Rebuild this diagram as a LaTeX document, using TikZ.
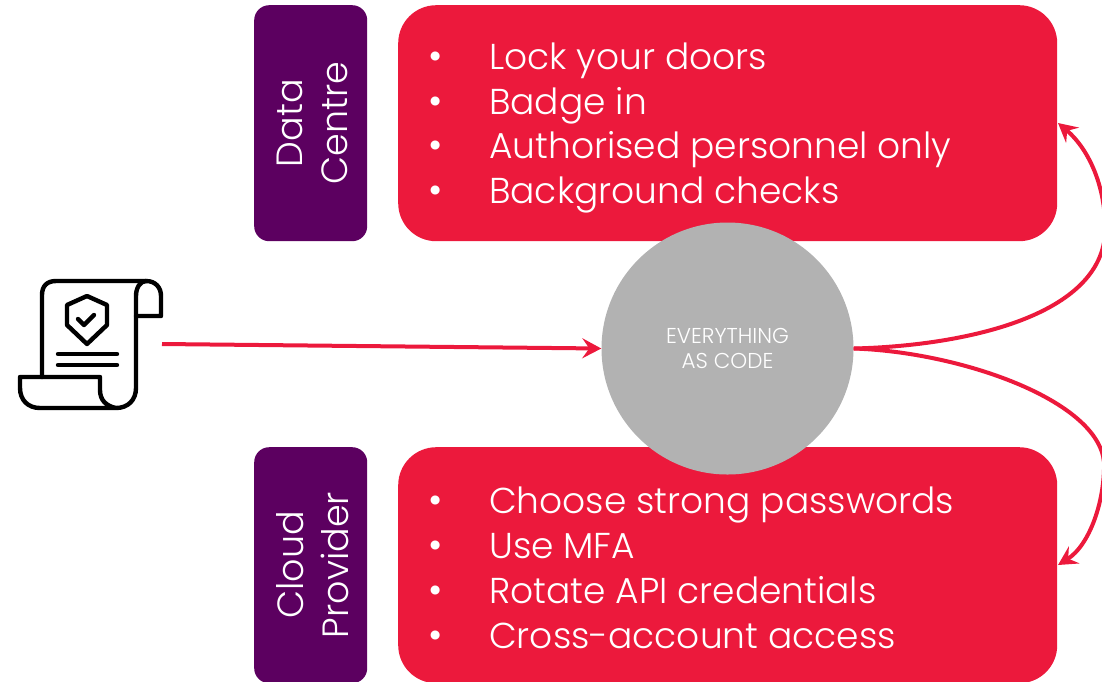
\documentclass[tikz,border=0pt]{standalone}
\usepackage{fontspec}
\setmainfont{Poppins Light}
\usetikzlibrary{arrows.meta}
\definecolor{redbox}{HTML}{EC193C}
\definecolor{purplebox}{HTML}{5C0060}
\definecolor{greyc}{HTML}{B2B2B2}
\newcommand{\bul}[1]{\makebox[61pt][l]{\fontsize{39}{26}\selectfont •}#1}
\tikzset{
 x=1pt,y=-1pt,
 redpanel/.style={fill=redbox,rounded corners=38pt,minimum width=659pt,minimum height=236pt,anchor=north west,inner sep=0pt},
 purplepanel/.style={fill=purplebox,rounded corners=15pt,minimum width=113pt,minimum height=236pt,anchor=north west,inner sep=0pt},
 listtext/.style={text=white,align=left,anchor=west,inner sep=0pt,font=\fontsize{36}{44.8}\selectfont},
 sidetext/.style={text=white,align=center,rotate=90,inner sep=0pt,font=\fontsize{36.5}{44.8}\selectfont},
 link/.style={draw=redbox,line width=4pt,-{Stealth[length=19pt,width=20pt,inset=7pt]}},
 iconline/.style={draw=black,line width=4.4pt,line join=round,line cap=round},
}
\begin{document}
\begin{tikzpicture}
\useasboundingbox (0,0) rectangle (1102,681);
\clip (0,0) rectangle (1102,681);
\node[purplepanel] (pa) at (254,5) {};
\node[purplepanel] (pb) at (254,447) {};
\node[sidetext] (patext) at (312.5,123) {Data\\Centre};
\node[sidetext] (pbtext) at (312.5,565) {Cloud\\Provider};
\node[redpanel] (ra) at (398,5) {};
\node[redpanel] (rb) at (398,447) {};
\node[listtext] (la) at (428,128) {\bul{Lock your doors}\\\bul{Badge in}\\\bul{Authorised personnel only}\\\bul{Background checks}};
\node[listtext] (lb) at (428,568) {\bul{Choose strong passwords}\\\bul{Use MFA}\\\bul{Rotate API credentials}\\\bul{Cross-account access}};
\node[circle,fill=greyc,minimum size=252pt,inner sep=0pt,text=white,align=center,font=\fontsize{21.5}{25}\selectfont] (hub) at (727.5,348.5) {\raisebox{-2pt}{EVERYTHING}\\\raisebox{-2pt}{AS CODE}};
\coordinate (doc) at (162,344);
\coordinate (ta) at (1058,123);
\coordinate (tb) at (1058,565);
\draw[link] (doc) -- (hub.west);
\draw[link] (hub.east) .. controls (960,346) and (1098,318) .. (1105,235) .. controls (1107,190) and (1090,150) .. (ta);
\draw[link] (hub.east) .. controls (960,352) and (1098,400) .. (1104,462) .. controls (1105,500) and (1090,545) .. (tb);
% document icon
\draw[iconline] (42,377) -- (42,295) .. controls (42,286) and (47,281) .. (56,281) -- (146,281) .. controls (156,281) and (161,288) .. (161,296) -- (161,316) -- (136,316);
\draw[iconline] (146,281) .. controls (140,281) and (136,288) .. (136,296) -- (136,388) .. controls (136,400) and (128,408) .. (116,408) -- (40,408) .. controls (28,408) and (20,400) .. (20,388) -- (20,377) -- (100,377) -- (100,390) .. controls (100,400) and (106,406) .. (116,408);
\draw[iconline] (87,296) -- (107,305) -- (107,325) -- (87,344) -- (67,325) -- (67,305) -- cycle;
\draw[iconline] (78,319) -- (84,325) -- (94,315);
\draw[iconline] (58,354) -- (117,354);
\draw[iconline] (58,365) -- (117,365);
\end{tikzpicture}
\end{document}
